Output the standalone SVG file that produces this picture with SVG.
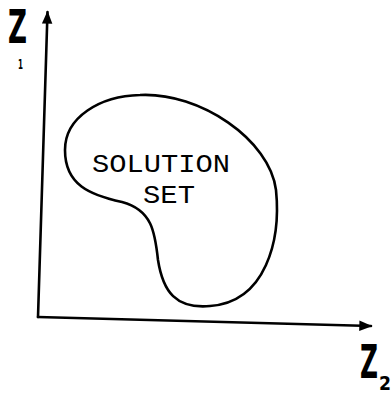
<svg xmlns="http://www.w3.org/2000/svg" width="392" height="396" viewBox="0 0 392 396">
<style>
.ax{stroke:#000;stroke-width:2.6;fill:none;stroke-linecap:round}
.blob{stroke:#000;stroke-width:2.6;fill:none}
.lbl{font-family:"Liberation Mono",monospace;font-size:25px;fill:#000}
.z{font-family:"DejaVu Sans","Liberation Sans",sans-serif;font-weight:bold;fill:#000}
</style>
<defs>
<marker id="ah" viewBox="0 0 10 10" refX="9" refY="5" markerWidth="5" markerHeight="5" orient="auto" markerUnits="strokeWidth">
<path d="M0,1 L10,5 L0,9 Z" fill="#000"/>
</marker>
</defs>
<rect width="392" height="396" fill="#fff"/>
<g id="connectors">
<path class="ax" d="M38,317 L47.5,12" marker-end="url(#ah)"/>
<path class="ax" d="M38,317 L371,326" marker-end="url(#ah)"/>
</g>
<g id="solution-set">
<path class="blob" d="M140,95 C200,92 270,140 276,190 C281,240 266,302 210,306 C176,309 163,292 158,260 C155,232 152,210 122,202 C90,195 65,185 65,150 C65,117 100,96 140,95 Z"/>
<text class="lbl" x="92" y="172" textLength="138" lengthAdjust="spacingAndGlyphs">SOLUTION</text>
<text class="lbl" x="143" y="203" textLength="52" lengthAdjust="spacingAndGlyphs">SET</text>
</g>
<g id="label-z1">
<text class="z" x="8" y="43" font-size="46" textLength="19" lengthAdjust="spacingAndGlyphs">Z</text>
<text class="z" x="18" y="69" font-size="14" textLength="5" lengthAdjust="spacingAndGlyphs">1</text>
</g>
<g id="label-z2">
<text class="z" x="360" y="378" font-size="46" textLength="18" lengthAdjust="spacingAndGlyphs">Z</text>
<text class="z" x="379" y="390" font-size="20" textLength="12" lengthAdjust="spacingAndGlyphs">2</text>
</g>
</svg>
